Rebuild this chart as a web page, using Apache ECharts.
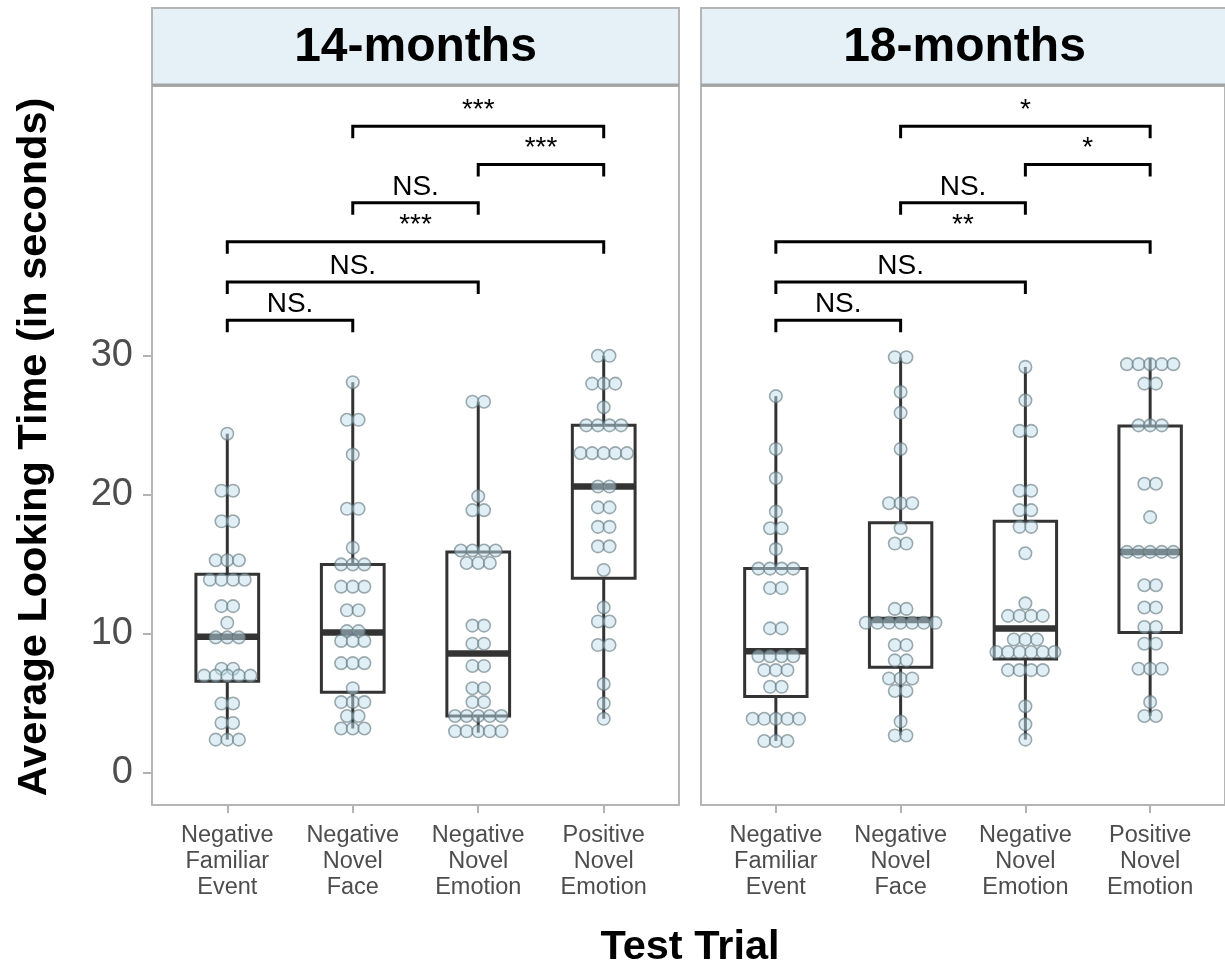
<!DOCTYPE html>
<html>
<head>
<meta charset="utf-8">
<script src="https://cdn.jsdelivr.net/npm/echarts@6/dist/echarts.min.js"></script>
<style>
html,body{margin:0;padding:0;background:#fff;}
#chart{width:1225px;height:971px;}
</style>
</head>
<body>
<div id="chart"></div>
<script>
// ---------- data ----------
const categories = ['Negative\nFamiliar\nEvent', 'Negative\nNovel\nFace', 'Negative\nNovel\nEmotion', 'Positive\nNovel\nEmotion'];
const panels = ['14-months', '18-months'];
const yTicks = [0, 10, 20, 30];

// individual looking times (dot plot), 14-months
const m14_NFE = [24.4, 20.3,20.3, 18.1,18.1, 15.3,15.3,15.3, 13.9,13.9,13.9,13.9, 12.0,12.0, 10.8, 9.75,9.75,9.75, 7.5,7.5, 7.0,7.0,7.0,7.0,7.0, 5.0,5.0, 3.6,3.6, 2.4,2.4,2.4];
const m14_NNF = [28.1, 25.4,25.4, 22.9, 19.0,19.0, 16.2, 15.0,15.0,15.0, 13.4,13.4,13.4, 11.7,11.7, 10.2,10.2, 9.5,9.5,9.5, 7.9,7.9,7.9, 6.1, 5.1,5.1,5.1, 4.1,4.1, 3.2,3.2,3.2];
const m14_NNE = [26.7,26.7, 19.9, 18.9,18.9, 16.0,16.0,16.0,16.0, 15.1,15.1,15.1, 10.6,10.6, 9.3,9.3, 7.7,7.7, 6.1,6.1, 5.1,5.1, 4.1,4.1,4.1,4.1,4.1, 3.0,3.0,3.0,3.0,3.0];
const m14_PNE = [30.0,30.0, 28.0,28.0,28.0, 26.3, 25.0,25.0,25.0,25.0, 23.0,23.0,23.0,23.0,23.0, 20.6,20.6, 19.1,19.1, 17.7,17.7, 16.3,16.3, 14.6, 11.9, 10.9,10.9, 9.2,9.2, 6.4, 5.0, 3.9];
// 18-months
const m18_NFE = [27.1, 23.3, 21.2, 18.8, 17.6,17.6, 16.1, 14.7,14.7,14.7,14.7, 13.3,13.3, 10.4,10.4, 8.4,8.4,8.4,8.4, 7.4,7.4,7.4, 6.2,6.2, 3.9,3.9,3.9,3.9,3.9, 2.3,2.3,2.3];
const m18_NNF = [29.9,29.9, 27.4, 25.9, 23.3, 19.4,19.4,19.4, 17.6, 16.5,16.5, 11.8,11.8, 10.8,10.8,10.8,10.8,10.8,10.8,10.8, 9.2,9.2, 8.1,8.1, 6.8,6.8,6.8, 5.9,5.9, 3.7, 2.7,2.7];
const m18_NNE = [29.2, 26.8, 24.6,24.6, 20.3,20.3, 18.9,18.9, 17.7,17.7, 15.8, 12.2, 11.3,11.3,11.3,11.3, 9.6,9.6,9.6, 8.7,8.7,8.7,8.7,8.7,8.7, 7.4,7.4,7.4,7.4, 4.8, 3.5, 2.4];
const m18_PNE = [29.4,29.4,29.4,29.4,29.4, 28.0,28.0, 25.0,25.0,25.0, 20.8,20.8, 18.4, 15.9,15.9,15.9,15.9,15.9, 13.5,13.5, 11.9,11.9, 10.5,10.5, 9.3,9.3, 7.5,7.5,7.5, 5.1, 4.1,4.1];

// box statistics [lower whisker, Q1, median, Q3, upper whisker]
const box14 = [[2.4, 6.6, 9.8, 14.3, 24.4], [3.2, 5.8, 10.1, 15.0, 28.1], [2.9, 4.1, 8.6, 15.9, 26.7], [3.9, 14.0, 20.6, 25.0, 30.0]];
const box18 = [[2.3, 5.5, 8.75, 14.7, 27.1], [2.7, 7.6, 11.0, 18.0, 29.9], [2.4, 8.2, 10.4, 18.1, 29.2], [4.1, 10.1, 15.9, 24.95, 29.8]];

// significance brackets: category pair and height
const bracketPairs = [[2, 4], [3, 4], [2, 3], [1, 4], [1, 3], [1, 2]];
const bracketHeights = [46.5, 43.75, 41.0, 38.2, 35.3, 32.55];
const sig14 = ['***', '***', 'NS.', '***', 'NS.', 'NS.'];
const sig18 = ['*', '*', 'NS.', '**', 'NS.', 'NS.'];

// ---------- build ----------
const dots14 = [m14_NFE, m14_NNF, m14_NNE, m14_PNE];
const dots18 = [m18_NFE, m18_NNF, m18_NNE, m18_PNE];
const DOT_STEP = 11.6;

function dotData(groups) {
  const out = [];
  groups.forEach((vals, ci) => {
    const counts = new Map();
    vals.forEach(v => counts.set(v, (counts.get(v) || 0) + 1));
    counts.forEach((n, v) => {
      for (let k = 0; k < n; k++) {
        out.push({ value: [ci + 1, v], symbolOffset: [(k - (n - 1) / 2) * DOT_STEP, 0] });
      }
    });
  });
  return out;
}
function boxData(stats) { return stats.map((s, i) => [i + 1].concat(s)); }
function bracketData() { return bracketPairs.map((p, i) => [p[0], p[1], bracketHeights[i], i]); }

const LINE = '#333333';
function renderBox(params, api) {
  const x = api.value(0);
  const lo = api.coord([x, api.value(1)]);
  const q1 = api.coord([x, api.value(2)]);
  const md = api.coord([x, api.value(3)]);
  const q3 = api.coord([x, api.value(4)]);
  const hi = api.coord([x, api.value(5)]);
  const half = api.size([0.5, 0])[0] / 2;
  const cx = lo[0];
  return {
    type: 'group',
    children: [
      { type: 'line', shape: { x1: cx, y1: q1[1], x2: cx, y2: lo[1] }, style: { stroke: LINE, lineWidth: 3 } },
      { type: 'line', shape: { x1: cx, y1: q3[1], x2: cx, y2: hi[1] }, style: { stroke: LINE, lineWidth: 3 } },
      { type: 'rect', shape: { x: cx - half, y: q3[1], width: 2 * half, height: q1[1] - q3[1] }, style: { fill: 'rgba(255,255,255,0)', stroke: LINE, lineWidth: 3 } },
      { type: 'line', shape: { x1: cx - half, y1: md[1], x2: cx + half, y2: md[1] }, style: { stroke: LINE, lineWidth: 6.5 } }
    ]
  };
}
function makeBracketRenderer(labels) {
  return function (params, api) {
    const y = api.value(2);
    const a = api.coord([api.value(0), y]);
    const b = api.coord([api.value(1), y]);
    const tip = 12;
    return {
      type: 'group',
      children: [
        { type: 'polyline', shape: { points: [[a[0], a[1] + tip], [a[0], a[1]], [b[0], b[1]], [b[0], b[1] + tip]] }, style: { stroke: '#000', lineWidth: 3, fill: null } },
        { type: 'text', x: (a[0] + b[0]) / 2, y: a[1] - 2, style: { text: labels[api.value(3)], fill: '#000', font: '28px "Liberation Sans", Arial, sans-serif', textAlign: 'center', textVerticalAlign: 'bottom' } }
      ]
    };
  };
}

const grids = [
  { left: 152, top: 86, width: 527, height: 719 },
  { left: 701, top: 86, width: 527, height: 719 }
];
const xAxes = grids.map((g, i) => ({
  type: 'value', gridIndex: i, min: 0.4, max: 4.6, position: 'bottom',
  axisLine: { show: false, onZero: false },
  splitLine: { show: false },
  axisTick: { show: true, customValues: [1, 2, 3, 4], length: 8, lineStyle: { color: '#b3b3b3', width: 2 } },
  axisLabel: {
    customValues: [1, 2, 3, 4], margin: 18,
    formatter: v => categories[Math.round(v) - 1],
    color: '#4d4d4d', fontSize: 23.5, lineHeight: 26, fontFamily: '"Liberation Sans", Arial, sans-serif'
  }
}));
const yAxes = grids.map((g, i) => ({
  type: 'value', gridIndex: i, min: -2.3, max: 49.4, position: 'left',
  axisLine: { show: false, onZero: false },
  splitLine: { show: false },
  axisTick: { show: i === 0, customValues: yTicks, length: 9, lineStyle: { color: '#b3b3b3', width: 2 } },
  axisLabel: { show: i === 0, customValues: yTicks, margin: 19, color: '#4d4d4d', fontSize: 38, fontFamily: '"Liberation Sans", Arial, sans-serif' }
}));

const allDots = [dots14, dots18];
const allBoxes = [box14, box18];
const allSig = [sig14, sig18];
const series = [];
[0, 1].forEach(i => {
  series.push({ type: 'custom', xAxisIndex: i, yAxisIndex: i, z: 2, renderItem: renderBox, data: boxData(allBoxes[i]), silent: true, clip: false });
  series.push({
    type: 'scatter', xAxisIndex: i, yAxisIndex: i, z: 3, symbol: 'circle', symbolSize: 12.5,
    itemStyle: { color: 'rgba(192,224,236,0.5)', borderColor: 'rgba(95,115,122,0.6)', borderWidth: 1.6, opacity: 1 },
    data: dotData(allDots[i]), silent: true
  });
  series.push({ type: 'custom', xAxisIndex: i, yAxisIndex: i, z: 4, renderItem: makeBracketRenderer(allSig[i]), data: bracketData(), silent: true, clip: false });
});

const strips = grids.map((g, i) => ({
  type: 'group',
  children: [
    { type: 'rect', shape: { x: g.left, y: 8, width: g.width, height: g.top - 8 }, style: { fill: '#e5f1f6', stroke: '#b5b5b5', lineWidth: 2 } },
    { type: 'line', shape: { x1: g.left, y1: g.top - 1, x2: g.left + g.width, y2: g.top - 1 }, style: { stroke: '#a3a3a3', lineWidth: 3 } },
    { type: 'text', x: g.left + g.width / 2, y: 48, style: { text: panels[i], fill: '#000', font: 'bold 48px "Liberation Sans", Arial, sans-serif', textAlign: 'center', textVerticalAlign: 'middle' } }
  ]
}));

const option = {
  backgroundColor: '#ffffff',
  animation: false,
  grid: grids.map(g => Object.assign({ show: true, borderColor: '#b5b5b5', borderWidth: 2, backgroundColor: '#fff' }, g)),
  xAxis: xAxes,
  yAxis: yAxes,
  series: series,
  graphic: strips.concat([
    { type: 'text', x: 35, y: 447, rotation: Math.PI / 2, style: { text: 'Average Looking Time (in seconds)', fill: '#000', font: 'bold 41.5px "Liberation Sans", Arial, sans-serif', textAlign: 'center', textVerticalAlign: 'middle' } },
    { type: 'text', x: 690, y: 948, style: { text: 'Test Trial', fill: '#000', font: 'bold 41.5px "Liberation Sans", Arial, sans-serif', textAlign: 'center', textVerticalAlign: 'middle' } }
  ])
};

const chart = echarts.init(document.getElementById('chart'), null, { renderer: 'canvas' });
chart.setOption(option);
</script>
</body>
</html>
